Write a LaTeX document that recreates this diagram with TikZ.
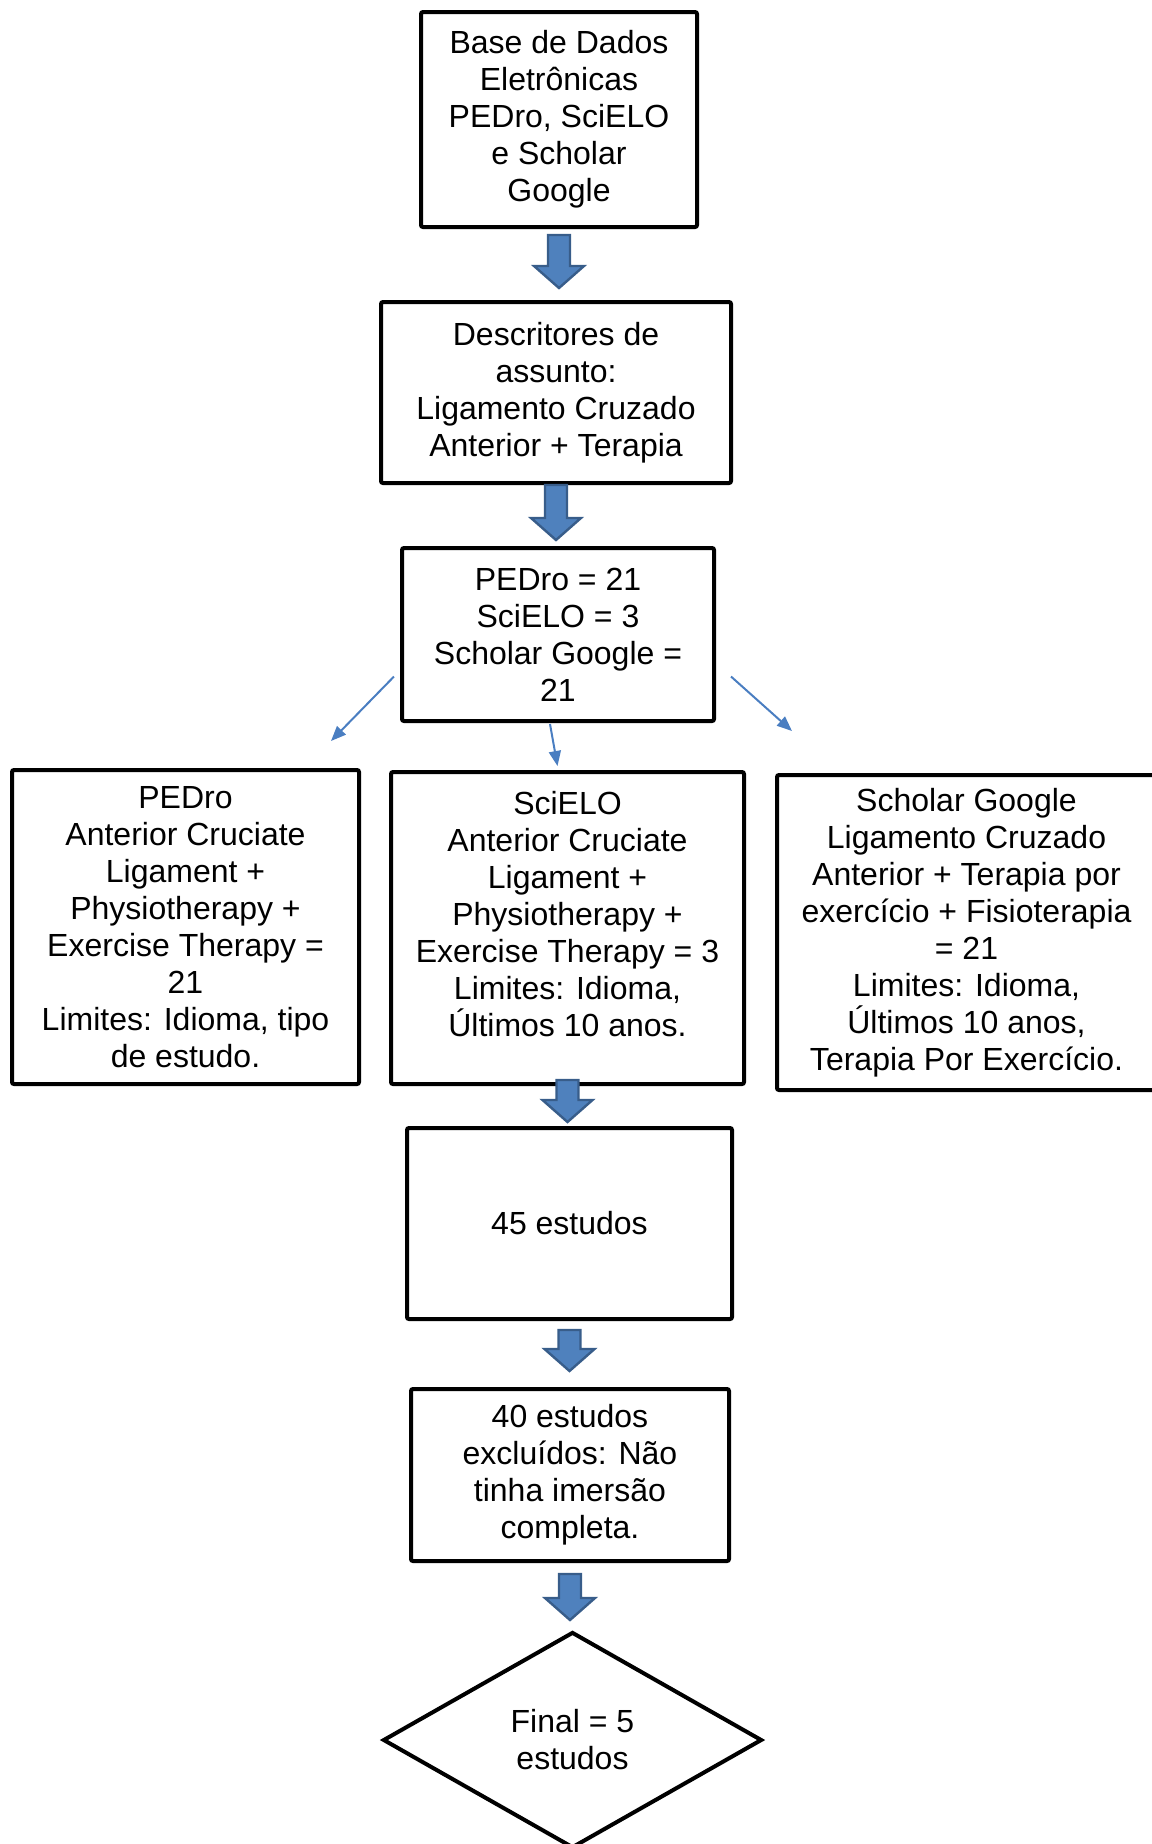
\documentclass[tikz,border=0pt]{standalone}
\usepackage{fontspec}
\setmainfont{Liberation Sans}
\definecolor{ArrowFill}{RGB}{79,129,189}
\definecolor{ArrowEdge}{RGB}{56,93,138}
\definecolor{LinkColor}{RGB}{74,126,193}
\usetikzlibrary{arrows.meta}
\usetikzlibrary{shapes.geometric}
\usetikzlibrary{calc}
\tikzstyle{box} = [draw, line width=2pt, rounded corners=1pt, align=center, inner sep=0pt, font=\fontsize{16}{18.5}\selectfont]
\tikzstyle{decision} = [box, diamond, sharp corners]
\tikzstyle{blockarrow} = [fill=ArrowFill, draw=ArrowEdge, line width=1.2pt, line join=miter]
\tikzstyle{link} = [line width=1pt, LinkColor, -{Triangle[length=7.5pt, width=6pt]}]

\begin{document}
\begin{tikzpicture}[x=0.5pt, y=-0.5pt]
    \useasboundingbox (0,0) rectangle (1152,1844);

    \node[box, minimum width=138pt, minimum height=107.5pt] (base) at (559,119.5)
        {Base de Dados\\Eletrônicas\\PEDro, SciELO\\e Scholar\\Google};
    \node[box, minimum width=175pt, minimum height=90.5pt] (desc) at (556,392.5)
        {Descritores de\\assunto:\\Ligamento Cruzado\\Anterior + Terapia};
    \node[box, minimum width=156pt, minimum height=86.5pt] (total) at (558,634.5)
        {PEDro = 21\\SciELO = 3\\Scholar Google =\\21};

    \node[box, minimum width=173.5pt, minimum height=157pt] (pedro) at (185.5,927)
        {PEDro\\Anterior Cruciate\\Ligament +\\Physiotherapy +\\Exercise Therapy =\\21\\Limites: Idioma, tipo\\de estudo.};
    \node[box, minimum width=176.5pt, minimum height=156pt] (scielo) at (567.5,928)
        {\parbox[c][156pt][t]{170pt}{\centering\vspace*{9.5pt}SciELO\\Anterior Cruciate\\Ligament +\\Physiotherapy +\\Exercise Therapy = 3\\Limites: Idioma,\\Últimos 10 anos.}};
    \node[box, minimum width=189.5pt, minimum height=157.5pt] (scholar) at (966.5,932.5)
        {Scholar Google\\Ligamento Cruzado\\Anterior + Terapia por\\exercício + Fisioterapia\\= 21\\Limites: Idioma,\\Últimos 10 anos,\\Terapia Por Exercício.};

    \node[box, minimum width=162.5pt, minimum height=95.5pt] (estudos) at (569.5,1223.5) {45 estudos};
    \node[box, minimum width=159pt, minimum height=86pt] (excl) at (570,1475)
        {40 estudos\\excluídos: Não\\tinha imersão\\completa.};
    \node[decision, minimum width=189.5pt, minimum height=108pt] (final) at (572.5,1740) {Final = 5\\estudos};

    % fat arrows
    \foreach \src/\dst/\off/\gap in {base/desc/6/12, desc/total/0/6, scielo/estudos/-6/4, estudos/excl/9/16, excl/final/11/10} {
        \coordinate (s) at ($(\src.south)+(0,\off)$);
        \coordinate (t) at ($(s |- \dst.north)+(0,-\gap)$);
        \draw[blockarrow] ($(s)+(-11,0)$) -- ($(s)+(11,0)$) -- ($(t)+(11,-22)$) -- ($(t)+(25,-22)$)
            -- (t) -- ($(t)+(-25,-22)$) -- ($(t)+(-11,-22)$) -- cycle;
    }

    \coordinate (pedroEnd) at (331,741);
    \coordinate (scholarEnd) at (792,731);
    \draw[link] ($(total.west)+(-6,42)$) -- (pedroEnd);
    \draw[link] ($(total.south)+(-8,1)$) -- ($(scielo.north)+(-10,-4)$);
    \draw[link] ($(total.east)+(15,42)$) -- (scholarEnd);
\end{tikzpicture}
\end{document}
